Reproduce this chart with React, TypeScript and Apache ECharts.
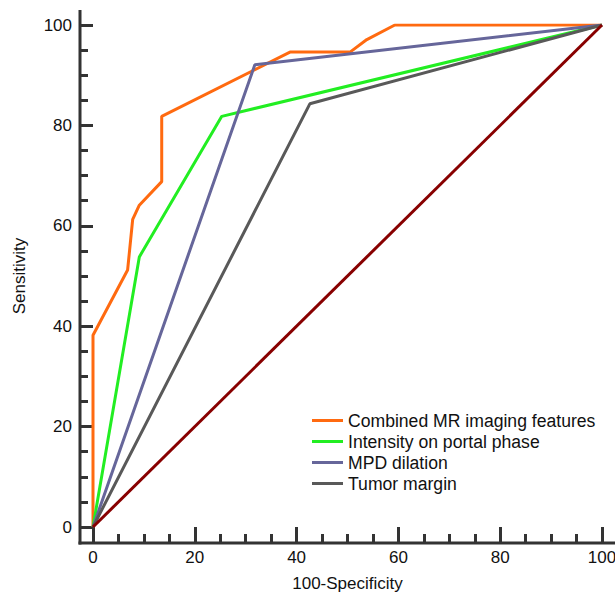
import React, { useEffect, useRef } from "react";
import * as echarts from "echarts";

const seriesNames = [
  "Combined MR imaging features",
  "Intensity on portal phase",
  "MPD dilation",
  "Tumor margin",
];

const combinedPoints: [number, number][] = [
  [0, 0], [0, 38.2], [6.8, 51.2], [7.8, 61.3], [9.1, 64.1], [13.5, 68.8],
  [13.5, 81.8], [38.7, 94.6], [50.5, 94.6], [53.8, 97.1], [59.3, 100], [100, 100],
];
const intensityPoints: [number, number][] = [[0, 0], [9.1, 53.8], [25.3, 81.8], [100, 100]];
const mpdPoints: [number, number][] = [[0, 0], [31.8, 92.1], [100, 100]];
const marginPoints: [number, number][] = [[0, 0], [42.6, 84.3], [100, 100]];
const referencePoints: [number, number][] = [[0, 0], [100, 100]];

const seriesColors = ["#ff6a10", "#22ee22", "#66669a", "#595959", "#880000"];

export default function App() {
  const ref = useRef<HTMLDivElement>(null);
  useEffect(() => {
    if (!ref.current) return;
    const chart = echarts.init(ref.current, null, { renderer: "svg" });
    const font = "Liberation Sans, Arial, sans-serif";
    const axisColor = "#333333";
    const mk = (name: string, data: [number, number][], color: string) => ({
      name,
      type: "line",
      data,
      symbol: "none",
      xAxisIndex: 0,
      yAxisIndex: 0,
      lineStyle: { width: 3, color },
      itemStyle: { color },
    });
    const hiddenAxis = (gridIndex: number) => ({
      type: "value",
      gridIndex,
      min: 0,
      max: 100,
      interval: 20,
      axisLine: { show: false },
      axisTick: { show: false },
      axisLabel: { show: false },
      splitLine: { show: false },
    });
    const minorAxis = (gridIndex: number, len: number) => ({
      type: "value",
      gridIndex,
      min: 0,
      max: 100,
      interval: 20,
      axisLine: { show: false },
      axisTick: { show: false, inside: false },
      minorTick: { show: true, splitNumber: 4, length: len, lineStyle: { width: 3, color: axisColor } },
      axisLabel: { show: false },
      splitLine: { show: false },
    });
    const gridBase = { outerBoundsMode: "none", containLabel: false };
    chart.setOption({
      animation: false,
      backgroundColor: "#ffffff",
      textStyle: { fontFamily: font },
      grid: [
        { ...gridBase, left: 93, right: 13, top: 25, bottom: 67 },
        { ...gridBase, left: 88, right: 13, top: 25, bottom: 67 },
        { ...gridBase, left: 93, right: 13, top: 25, bottom: 60 },
      ],
      legend: {
        orient: "vertical",
        left: 312,
        top: 410,
        padding: 0,
        itemGap: 0,
        itemWidth: 31,
        itemHeight: 3,
        icon: "rect",
        data: seriesNames,
        textStyle: { fontSize: 17.6, color: "#111", lineHeight: 21, fontFamily: font },
      },
      xAxis: [
        {
          type: "value",
          gridIndex: 0,
          min: 0,
          max: 100,
          interval: 20,
          name: "100-Specificity",
          nameLocation: "middle",
          nameGap: 48,
          nameTextStyle: { fontSize: 17, color: "#111", fontFamily: font },
          axisLine: { show: false },
          axisTick: { show: true, inside: false, length: 16, lineStyle: { width: 3, color: axisColor } },
          axisLabel: { fontSize: 17, color: "#111", margin: 22, fontFamily: font },
          splitLine: { show: false },
        },
        hiddenAxis(1),
        minorAxis(2, 9),
      ],
      yAxis: [
        {
          type: "value",
          gridIndex: 0,
          min: 0,
          max: 100,
          interval: 20,
          name: "Sensitivity",
          nameLocation: "middle",
          nameGap: 65,
          nameTextStyle: { fontSize: 17, color: "#111", fontFamily: font },
          axisLine: { show: false },
          axisTick: { show: true, inside: false, length: 13, lineStyle: { width: 3, color: axisColor } },
          axisLabel: { fontSize: 17, color: "#111", margin: 21, fontFamily: font },
          splitLine: { show: false },
        },
        minorAxis(1, 8),
        hiddenAxis(2),
      ],
      graphic: [
        { type: "line", shape: { x1: 80, y1: 10, x2: 80, y2: 544.5 }, style: { stroke: axisColor, lineWidth: 3 } },
        { type: "line", shape: { x1: 78.5, y1: 543, x2: 615, y2: 543 }, style: { stroke: axisColor, lineWidth: 3 } },
      ],
      series: [
        mk(seriesNames[0], combinedPoints, seriesColors[0]),
        mk(seriesNames[1], intensityPoints, seriesColors[1]),
        mk(seriesNames[2], mpdPoints, seriesColors[2]),
        mk(seriesNames[3], marginPoints, seriesColors[3]),
        mk("Reference", referencePoints, seriesColors[4]),
      ],
    });
    return () => chart.dispose();
  }, []);
  return (
    <div
      ref={ref}
      style={{ position: "fixed", left: 0, top: 0, width: 615, height: 594 }}
    />
  );
}
